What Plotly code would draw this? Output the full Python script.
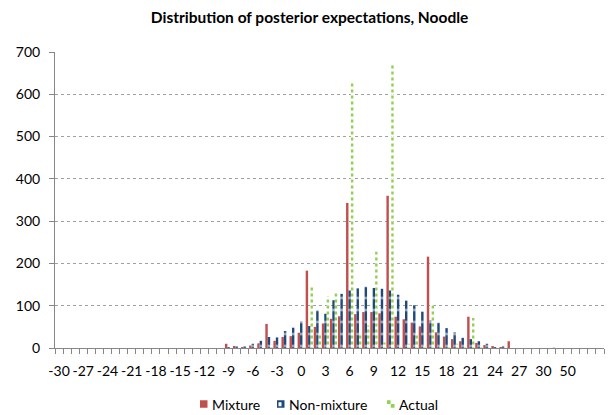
import plotly.graph_objects as go

# Categories (values of posterior expectation bins)
categories = list(range(-30, 31)) + [40, 45, 50, 60, 70, 80, 100]

# Non-zero counts, keyed by category
mixture_nz = {
    -9: 10, -8: 3, -7: 2, -6: 6, -5: 11, -4: 57, -3: 17, -2: 26, -1: 28, 0: 36,
    1: 183, 2: 50, 3: 58, 4: 69, 5: 75, 6: 343, 7: 80, 8: 85, 9: 85, 10: 82,
    11: 360, 12: 74, 13: 68, 14: 60, 15: 51, 16: 216, 17: 37, 18: 27, 19: 21,
    20: 16, 21: 74, 22: 12, 23: 7, 24: 4, 25: 2, 26: 16,
}
nonmixture_nz = {
    -9: 2, -8: 4, -7: 3, -6: 10, -5: 17, -4: 26, -3: 25, -2: 40, -1: 48, 0: 63,
    1: 52, 2: 89, 3: 81, 4: 113, 5: 128, 6: 136, 7: 141, 8: 145, 9: 142, 10: 140,
    11: 136, 12: 126, 13: 112, 14: 101, 15: 86, 16: 65, 17: 60, 18: 47, 19: 37,
    20: 24, 21: 21, 22: 16, 23: 10, 24: 2, 25: 5,
}
actual_nz = {
    -4: 8, 0: 2, 1: 144, 2: 35, 3: 122, 4: 133, 5: 5, 6: 629, 7: 34, 8: 53,
    9: 228, 10: 13, 11: 670, 12: 3, 13: 10, 14: 33, 15: 3, 16: 101, 17: 5,
    18: 3, 19: 10, 20: 3, 21: 71, 22: 2, 40: 3,
}

series_names = ["Mixture", "Non-mixture", "Actual"]

mixture = [mixture_nz.get(c, 0) for c in categories]
nonmixture = [nonmixture_nz.get(c, 0) for c in categories]
actual = [actual_nz.get(c, 0) for c in categories]

# Tick labels shown every third category (last one omitted as in source)
tick_idx = list(range(0, 64, 3))
tick_labels = [str(categories[i]) for i in tick_idx]

x = list(range(len(categories)))

RED = "#C0504D"
BLUE = "#1F497D"
GREEN = "#92D050"
FONT = "Lato"
W, H = 613, 415
ML, MR, MT, MB = 55, 9, 52, 67
PW, PH = W - ML - MR, H - MT - MB

fig = go.Figure()
fig.add_trace(go.Bar(
    x=x, y=mixture, name=series_names[0],
    marker=dict(color=RED, line=dict(width=0)),
))
fig.add_trace(go.Bar(
    x=x, y=nonmixture, name=series_names[1],
    marker=dict(color=BLUE, line=dict(width=0),
                pattern=dict(shape="-", fillmode="overlay", fgcolor="white",
                             size=12, solidity=0.22)),
))
fig.add_trace(go.Bar(
    x=x, y=actual, name=series_names[2],
    marker=dict(color=GREEN, line=dict(width=0),
                pattern=dict(shape="-", fillmode="replace", fgcolor=GREEN,
                             bgcolor="white", size=6, solidity=0.5)),
))

# ---- custom legend (Excel-style small squares + labels), pixel -> paper ----
def px(xp):
    return (xp - ML) / PW

def py(yp):
    return (H - MB - yp) / PH

shapes = []
annotations = []
leg_y = 404
sq = 7.5
leg_items = [(200, series_names[0]), (277, series_names[1]), (387, series_names[2])]
for (lx, name) in leg_items:
    x0, x1 = lx, lx + sq
    y0, y1 = leg_y - sq / 2, leg_y + sq / 2
    if name == "Mixture":
        shapes.append(dict(type="rect", xref="paper", yref="paper",
                           x0=px(x0), x1=px(x1), y0=py(y1), y1=py(y0),
                           fillcolor=RED, line=dict(width=0)))
    elif name == "Non-mixture":
        shapes.append(dict(type="rect", xref="paper", yref="paper",
                           x0=px(x0), x1=px(x1), y0=py(y1), y1=py(y0),
                           fillcolor=BLUE, line=dict(width=0)))
        shapes.append(dict(type="rect", xref="paper", yref="paper",
                           x0=px(x0 + 1.5), x1=px(x0 + 4.5), y0=py(y0 + 6), y1=py(y0 + 2),
                           fillcolor="white", line=dict(width=0)))
    else:
        h = sq / 2
        for i in range(2):
            for j in range(2):
                col = GREEN if (i + j) % 2 == 0 else "white"
                shapes.append(dict(type="rect", xref="paper", yref="paper",
                                   x0=px(x0 + i * h), x1=px(x0 + (i + 1) * h),
                                   y0=py(y0 + (j + 1) * h), y1=py(y0 + j * h),
                                   fillcolor=col, line=dict(width=0)))
    annotations.append(dict(text=name, xref="paper", yref="paper",
                            x=px(x1 + 2), y=py(leg_y), xanchor="left",
                            yanchor="middle", showarrow=False,
                            font=dict(family=FONT, size=14, color="#000000")))

fig.update_layout(
    width=W, height=H,
    margin=dict(l=ML, r=MR, t=MT, b=MB),
    paper_bgcolor="white", plot_bgcolor="white",
    barmode="group", bargap=0.1, bargroupgap=0,
    font=dict(family=FONT, size=14, color="#000000"),
    title=dict(text="<b>Distribution of posterior expectations, Noodle</b>",
               x=0.505, xanchor="center", y=1 - 18 / H, yanchor="middle",
               font=dict(family=FONT, size=15.5, color="#000000")),
    showlegend=False,
    shapes=shapes,
    annotations=annotations,
    xaxis=dict(
        range=[-0.5, len(categories) - 0.5],
        tickmode="array", tickvals=tick_idx, ticktext=tick_labels,
        ticks="", ticklabelstandoff=10, automargin=False,
        showline=True, linecolor="#868686", linewidth=1,
        showgrid=False, zeroline=False,
        minor=dict(tickmode="linear", tick0=-0.5, dtick=1, ticks="outside",
                   ticklen=5, tickcolor="#868686", showgrid=False),
        tickfont=dict(family=FONT, size=14),
    ),
    yaxis=dict(
        range=[0, 700], dtick=100, tick0=0, automargin=False,
        ticks="outside", ticklen=5, tickcolor="#868686", ticklabelstandoff=6,
        showline=True, linecolor="#868686", linewidth=1,
        showgrid=True, gridcolor="#A0A0A0", griddash="dot", gridwidth=1,
        zeroline=False,
        tickfont=dict(family=FONT, size=14),
    ),
)

fig.write_html("out.html")
